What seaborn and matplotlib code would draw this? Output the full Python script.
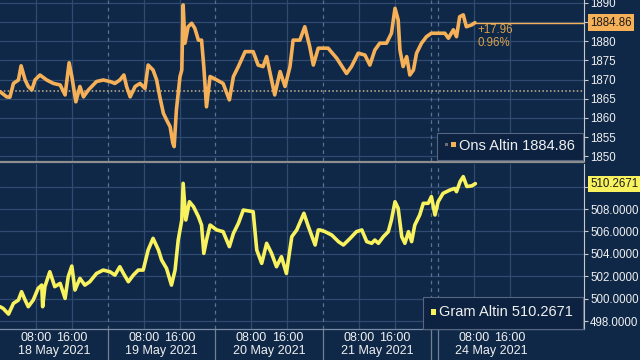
import matplotlib
matplotlib.use("Agg")
import matplotlib.pyplot as plt
import matplotlib.patches as mpatches
import seaborn as sns
import pandas as pd
import numpy as np

# ---------------- data (hours on the trading axis, 18 May 00:00 = 0; weekend compressed) ----------------
ons_hours = [0.0, 1.5, 2.2, 3.0, 4.1, 4.7, 5.6, 6.3, 7.1, 7.8, 8.9, 10.4, 11.9, 13.4, 14.5, 15.4, 16.0, 16.9,
             17.8, 18.6, 19.7, 21.5, 23.0, 24.5, 25.6, 26.7, 27.6, 28.2, 29.0, 30.1, 31.2, 32.3, 33.0, 34.1,
             34.9, 35.6, 36.4, 37.1, 37.9, 38.5, 38.8, 39.3, 40.1, 40.5, 40.8, 41.2, 41.9, 42.7, 43.4, 44.2,
             44.9, 45.4, 46.0, 46.8, 48.3, 49.7, 51.1, 52.0, 53.1, 54.6, 56.4, 57.5, 58.6, 59.4, 60.1, 61.2,
             62.4, 63.5, 64.6, 65.3, 66.8, 67.9, 69.0, 69.8, 70.9, 71.3, 73.1, 75.0, 77.2, 78.3, 79.8, 81.3,
             82.4, 83.5, 84.6, 86.1, 87.2, 88.0, 88.7, 89.1, 89.8, 90.6, 91.3, 92.1, 92.8, 93.9, 95.0, 96.1,
             98.0, 99.1, 99.9, 101.0, 101.7, 102.4, 103.2, 103.9, 105.1, 105.8]
ons_values = [1866.85, 1865.5, 1865.4, 1869.0, 1869.9, 1873.6, 1869.9, 1868.2, 1867.3, 1869.9, 1871.2, 1869.9,
              1869.0, 1868.6, 1866.0, 1874.4, 1870.8, 1864.2, 1868.2, 1865.5, 1867.3, 1869.5, 1869.9, 1869.5,
              1869.0, 1869.9, 1871.2, 1868.2, 1865.5, 1868.2, 1869.0, 1867.7, 1873.8, 1872.5, 1869.9, 1865.5,
              1861.2, 1859.5, 1857.7, 1853.4, 1852.5, 1862.1, 1870.8, 1872.5, 1889.5, 1879.5, 1883.8, 1884.7,
              1883.4, 1880.3, 1880.3, 1873.4, 1862.9, 1870.8, 1869.9, 1869.0, 1864.7, 1870.8, 1873.4, 1877.3,
              1877.3, 1873.8, 1873.4, 1876.0, 1872.1, 1866.0, 1872.1, 1868.2, 1873.4, 1880.3, 1880.3, 1883.8,
              1878.6, 1873.8, 1878.2, 1878.2, 1878.2, 1875.6, 1871.6, 1873.4, 1876.9, 1876.4, 1873.8, 1877.7,
              1879.5, 1879.5, 1882.1, 1888.6, 1885.6, 1877.7, 1873.4, 1876.0, 1871.2, 1872.5, 1876.9, 1879.5,
              1881.2, 1882.1, 1882.1, 1882.1, 1880.8, 1883.0, 1881.2, 1886.4, 1886.9, 1883.8, 1884.3, 1884.86]

gram_hours = [0.0, 0.7, 1.9, 3.0, 4.1, 4.8, 5.6, 6.3, 7.4, 8.5, 9.3, 9.5, 10.0, 11.1, 12.2, 13.4, 14.5, 15.2,
              16.0, 16.7, 17.8, 18.9, 20.0, 21.5, 23.0, 24.5, 25.6, 26.7, 27.5, 28.6, 29.7, 30.8, 31.9, 33.0,
              34.1, 35.3, 36.0, 37.1, 38.2, 39.0, 39.7, 40.5, 40.8, 41.4, 42.2, 43.1, 44.2, 44.9, 45.4, 46.0,
              46.8, 48.3, 49.7, 51.1, 52.0, 53.1, 54.2, 56.4, 57.2, 58.3, 59.4, 60.5, 61.6, 62.7, 63.8, 65.0,
              66.1, 67.7, 68.7, 70.2, 70.9, 71.3, 72.4, 73.9, 75.4, 76.5, 78.0, 79.4, 80.6, 81.7, 82.8, 83.5,
              84.3, 85.4, 86.5, 87.2, 88.0, 88.7, 89.5, 90.2, 91.0, 91.7, 92.4, 93.5, 94.3, 95.4, 96.1, 96.9,
              97.6, 98.7, 100.2, 101.3, 101.7, 102.5, 103.2, 104.0, 105.1, 105.9]
gram_values = [499.28, 499.13, 498.62, 499.58, 499.87, 500.62, 499.87, 499.28, 499.87, 500.92, 501.21, 499.28,
               501.07, 502.40, 501.07, 501.36, 500.02, 501.96, 502.91, 500.77, 501.81, 501.21, 501.51, 502.25,
               502.55, 502.40, 502.10, 502.85, 502.25, 501.51, 502.10, 502.55, 502.55, 504.34, 505.38, 504.34,
               503.45, 502.70, 501.21, 502.55, 505.23, 507.02, 510.29, 507.02, 508.65, 508.21, 507.32, 506.57,
               504.04, 505.23, 506.57, 506.13, 505.98, 504.64, 505.83, 506.72, 507.91, 507.76, 504.34, 503.15,
               504.94, 504.04, 502.85, 503.74, 502.25, 505.53, 506.13, 507.62, 506.43, 504.79, 506.13, 506.13,
               505.98, 505.68, 505.09, 504.79, 505.38, 505.98, 506.13, 505.09, 504.94, 505.23, 504.94, 505.53,
               505.98, 507.02, 508.65, 508.06, 505.53, 504.94, 505.98, 505.09, 506.57, 507.47, 508.51, 508.51,
               509.11, 507.47, 508.65, 509.40, 509.69, 509.84, 509.55, 510.45, 510.89, 510.01, 510.07, 510.2671]

day_labels = ["18 May 2021", "19 May 2021", "20 May 2021", "21 May 2021", "24 May 2021"]
day_starts = [0.0, 24.0, 48.0, 72.0, 97.55]
hour_labels = ["08:00", "16:00"]
ons_ticks = [1850, 1855, 1860, 1865, 1870, 1875, 1880, 1885, 1890]
gram_ticks = [498, 500, 502, 504, 506, 508, 510]
ons_last, ons_change, ons_pct, ons_prev = 1884.86, 17.96, 0.96, 1866.90
gram_last = 510.2671

# ---------------- style ----------------
BG = "#0f2848"
GRID = "#2f4b70"
ORANGE = "#f6b158"
YELLOW = "#f7f25e"
TXT = "#f0f0f0"

sns.set_style("dark")
plt.rcParams["font.family"] = ["Liberation Sans", "DejaVu Sans"]

W, H = 640, 360
fig = plt.figure(figsize=(6.4, 3.6), dpi=100, facecolor=BG)

def fx(px):
    return px / W

def fy(py):
    return 1 - py / H

XMAX = 130.1
ax1 = fig.add_axes([0, fy(161), fx(584), 161 / H])
ax2 = fig.add_axes([0, fy(329), fx(584), 165 / H])

df_ons = pd.DataFrame({"h": ons_hours, "v": ons_values})
df_gram = pd.DataFrame({"h": gram_hours, "v": gram_values})

for ax in (ax1, ax2):
    ax.set_facecolor(BG)
    ax.set_xlim(0, XMAX)
    for s in ax.spines.values():
        s.set_visible(False)
    ax.spines["right"].set_visible(True)
    ax.spines["right"].set_color("#c8c8c8")
    ax.spines["right"].set_linewidth(0.8)
    ax.yaxis.tick_right()
    ax.tick_params(axis="y", which="both", direction="out", length=3, width=0.8,
                   colors="#c8c8c8", labelcolor=TXT, labelsize=8.3, pad=1.5)
    ax.grid(False)
    # vertical gridlines at 08:00 and 16:00
    for d in day_starts:
        for k in (8, 16):
            ax.axvline(d + k, color=GRID, lw=0.9, zorder=0.5)
    # day separators
    for d in day_starts[1:] + [96.0]:
        ax.axvline(d, color="#5a7090", lw=0.9, ls=(0, (3, 3)), zorder=0.6)

sns.lineplot(data=df_ons, x="h", y="v", ax=ax1, color=ORANGE, lw=2.6, zorder=3)
sns.lineplot(data=df_gram, x="h", y="v", ax=ax2, color=YELLOW, lw=2.6, zorder=3)

ax1.set_ylim(1848.75, 1890.78)
ax1.set_yticks(ons_ticks)
# the 1885 label sits under the last-value box in the reference
ax1.set_yticklabels(["" if t == 1885 else f"{t}" for t in ons_ticks])
for t in ons_ticks:
    ax1.axhline(t, color=GRID, lw=0.9, zorder=0.5)
ax1.axhline(ons_prev, color="#c9b48e", lw=1.1, ls=(0, (1, 1.5)), zorder=1)
ax1.plot([ons_hours[-1], XMAX], [ons_last, ons_last], color=ORANGE, lw=1.0, zorder=2)
ax1.set_xticks([])
ax1.set_xlabel("")
ax1.set_ylabel("")

ax2.set_ylim(497.29, 512.02)
ax2.set_yticks(gram_ticks)
ax2.set_yticklabels(["" if t == 510 else f"{t:.4f}" for t in gram_ticks])
for t in gram_ticks:
    ax2.axhline(t, color=GRID, lw=0.9, zorder=0.5)
ax2.set_ylabel("")
ax2.set_xlabel("")
xt, xl = [], []
for d in day_starts:
    for k, lab in zip((8, 16), hour_labels):
        xt.append(d + k)
        xl.append(lab)
ax2.set_xticks(xt)
ax2.set_xticklabels(xl)
ax2.tick_params(axis="x", length=0, labelcolor=TXT, labelsize=9, pad=2)
ax2.spines["bottom"].set_visible(True)
ax2.spines["bottom"].set_color("#7d8ca3")
ax2.spines["bottom"].set_linewidth(0.9)

# day labels
for d, lab in zip(day_starts, day_labels):
    ax2.text(d + 12, -0.135, lab, transform=ax2.get_xaxis_transform(), ha="center", va="center",
             color=TXT, fontsize=9, clip_on=False)
# day separators in label area
for d in day_starts[1:] + [96.0]:
    ax2.plot([d, d], [-0.2, 0], transform=ax2.get_xaxis_transform(), color="#6f7f96",
             lw=0.9, clip_on=False)

# panel separator
fig.add_artist(plt.Line2D([0, fx(584)], [fy(162.5), fy(162.5)], color="#8e8e8e", lw=1.6))

# change annotation
fig.text(fx(477), fy(30), f"+{ons_change:.2f}", color="#dba24a", fontsize=8.3, va="center", ha="left")
fig.text(fx(477), fy(43), f"{ons_pct:.2f}%", color="#dba24a", fontsize=8.3, va="center", ha="left")

# last value boxes
fig.text(fx(590), fy(22.5), f"{ons_last:.2f}", color="#1b1b1b", fontsize=8.3, va="center", ha="left",
         bbox=dict(boxstyle="square,pad=0.2", fc=ORANGE, ec="none"), zorder=10)
fig.text(fx(590), fy(184), f"{gram_last:.4f}", color="#1b1b1b", fontsize=8.3, va="center", ha="left",
         bbox=dict(boxstyle="square,pad=0.2", fc=YELLOW, ec="none"), zorder=10)

# legend boxes
def rect(x0, y0, x1, y1, **kw):
    fig.add_artist(mpatches.Rectangle((fx(x0), fy(y1)), fx(x1) - fx(x0), (y1 - y0) / H,
                                      transform=fig.transFigure, **kw))

rect(437, 133, 583, 160, fc="#0c2240", ec="#55667e", lw=0.8, zorder=5)
rect(445, 143, 448, 146, fc="#6b6f75", ec="none", zorder=6)
rect(451, 142, 456, 147, fc=ORANGE, ec="none", zorder=6)
fig.text(fx(459), fy(145.5), f"Ons Altin {ons_last:.2f}", color=TXT, fontsize=10.5, va="center",
         ha="left", zorder=7)

rect(423, 297, 583, 329, fc="#0c2240", ec="#55667e", lw=0.8, zorder=5)
rect(431, 309, 436, 315, fc=YELLOW, ec="none", zorder=6)
fig.text(fx(439), fy(312.5), f"Gram Altin {gram_last:.4f}", color=TXT, fontsize=10.5, va="center",
         ha="left", zorder=7)

fig.savefig("out.png", dpi=100, facecolor=BG)
